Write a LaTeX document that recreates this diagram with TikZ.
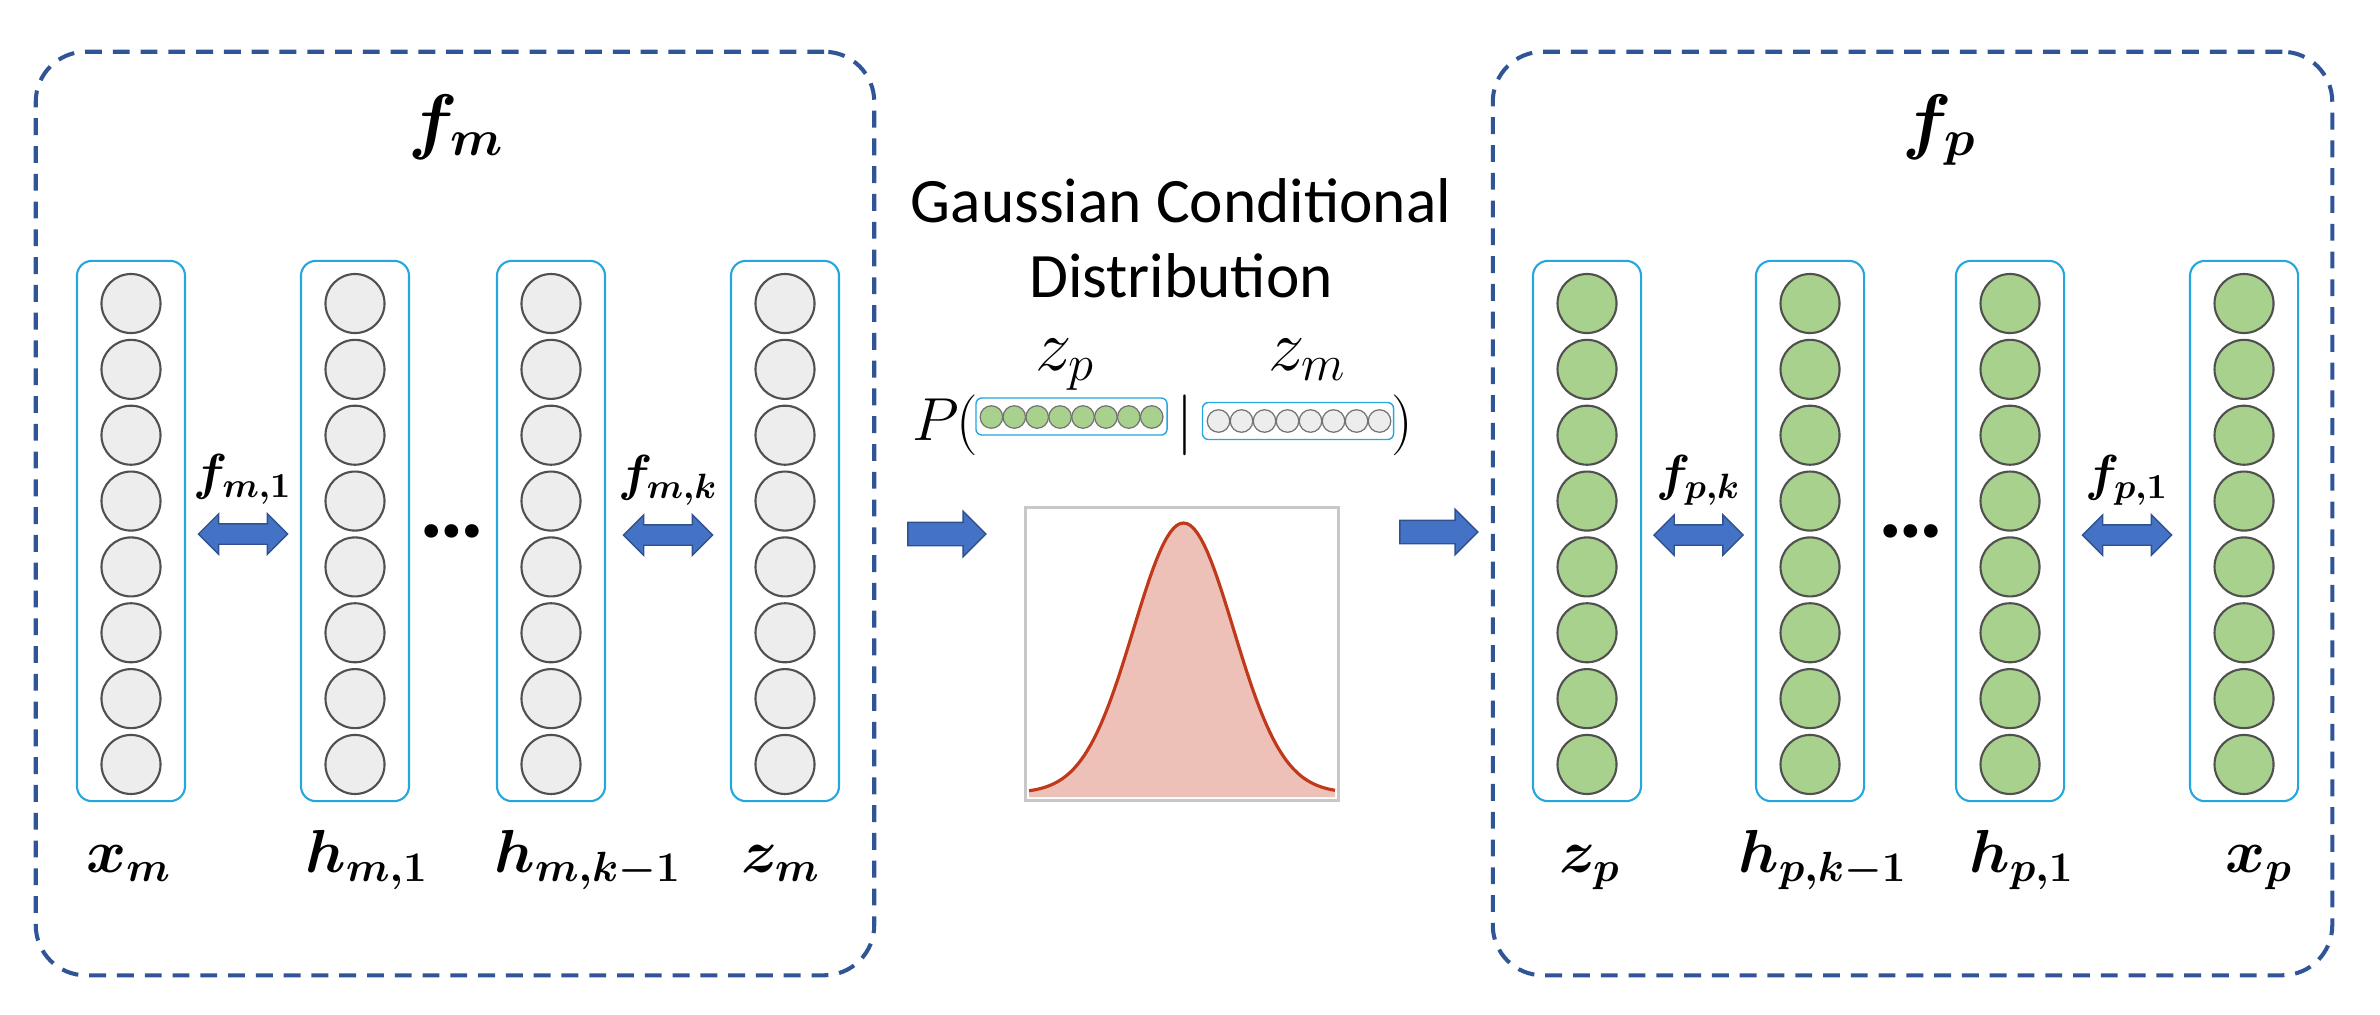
\documentclass[tikz,border=0pt]{standalone}
\usepackage{amsmath,amssymb,bm}
\usepackage{fontspec}
\newfontfamily\calib{Carlito}
\usepackage{tikz}
\usetikzlibrary{shapes.arrows,positioning,calc}

\definecolor{dashblue}{RGB}{47,85,151}
\definecolor{layerblue}{RGB}{38,166,222}
\definecolor{nodegray}{RGB}{237,237,237}
\definecolor{nodegreen}{RGB}{169,209,142}
\definecolor{rimgray}{RGB}{80,80,80}
\definecolor{arrowblue}{RGB}{68,114,196}
\definecolor{arrowrim}{RGB}{47,82,143}
\definecolor{bellfill}{RGB}{238,193,184}
\definecolor{bellline}{RGB}{192,57,27}
\definecolor{framegray}{RGB}{200,200,200}

\tikzset{
  netbox/.style={draw=dashblue,line width=1.15pt,dash pattern=on 4.8pt off 3.1pt,
    rounded corners=0.5cm,inner sep=0pt},
  layer/.style={draw=layerblue,line width=0.6pt,rounded corners=0.15cm,
    minimum width=1.08cm,minimum height=5.4cm,inner sep=0pt},
  neuron/.style={circle,draw=rimgray,line width=0.6pt,minimum size=0.59cm,inner sep=0pt},
  minineuron/.style={circle,draw=rimgray!80,line width=0.35pt,minimum size=0.225cm,inner sep=0pt},
  minibar/.style={draw=layerblue,line width=0.4pt,rounded corners=0.06cm,inner sep=0pt,
    minimum width=1.91cm,minimum height=0.37cm},
  duo/.style={double arrow,fill=arrowblue,draw=arrowrim,line width=0.4pt,inner sep=0pt,
    inner ysep=0.095cm,minimum height=0.89cm,double arrow head extend=0.1cm},
  flow/.style={single arrow,fill=arrowblue,draw=arrowrim,line width=0.4pt,inner sep=0pt,
    inner ysep=0.11cm,minimum height=0.78cm,single arrow head extend=0.11cm},
  ttl/.style={inner sep=0pt,anchor=base west,font=\fontsize{20}{24}\selectfont},
  lbl/.style={inner sep=0pt,anchor=base,font=\fontsize{18.5}{22}\selectfont},
  flbl/.style={inner sep=0pt,font=\fontsize{14.5}{17}\selectfont},
  paren/.style={inner sep=0pt,font=\fontsize{17}{20}\selectfont},
}

\begin{document}
\begin{tikzpicture}[x=0.01cm,y=-0.01cm]
\useasboundingbox (0,0) rectangle (2380,1014);

% the two networks
\node[netbox,minimum width=8.38cm,minimum height=9.23cm] (encm) at (455,513.5) {};
\node[netbox,minimum width=8.39cm,minimum height=9.23cm] (encp) at (1912.5,513.5) {};
\node[ttl] (fmtitle) at (408,145) {$\bm{f}_{\bm{m}}$};
\node[ttl] (fptitle) at (1902,145) {$\bm{f}_{\bm{p}}$};

% layers
\foreach \cx/\nm/\fc in {131/xm/nodegray,355/hma/nodegray,551/hmk/nodegray,785/zm/nodegray,
  1587/zp/nodegreen,1810/hpk/nodegreen,2010/hpa/nodegreen,2244/xp/nodegreen}{
  \node[layer] (\nm) at (\cx,531) {};
  \foreach \i in {0,...,7}
    \node[neuron,fill=\fc] (\nm-\i) at (\cx,{303.5+65.85*\i}) {};
}

% layer names
\node[lbl] (xmlbl) at (129,872) {$\bm{x}_{\bm{m}}$};
\node[lbl] (hmalbl) at (367,872) {$\bm{h}_{\bm{m,1}}$};
\node[lbl] (hmklbl) at (588,872) {$\bm{h}_{\bm{m,k-1}}$};
\node[lbl] (zmlbl) at (781,872) {$\bm{z}_{\bm{m}}$};
\node[lbl] (zplbl) at (1590,872) {$\bm{z}_{\bm{p}}$};
\node[lbl] (hpklbl) at (1823,872) {$\bm{h}_{\bm{p,k-1}}$};
\node[lbl] (hpalbl) at (2022,872) {$\bm{h}_{\bm{p,1}}$};
\node[lbl] (xplbl) at (2259,872) {$\bm{x}_{\bm{p}}$};

% maps between layers
\node[duo,yshift=-0.03cm] (fma) at ($(xm.east)!.5!(hma.west)$) {};
\node[duo,yshift=-0.04cm] (fmk) at ($(hmk.east)!.5!(zm.west)$) {};
\node[duo,yshift=-0.04cm] (fpk) at ($(zp.east)!.5!(hpk.west)$) {};
\node[duo,yshift=-0.04cm] (fpa) at ($(hpa.east)!.5!(xp.west)$) {};
\node[flbl,above=0.18cm of fma] (fmalbl) {$\bm{f}_{\bm{m,1}}$};
\node[flbl,above=0.18cm of fmk] (fmklbl) {$\bm{f}_{\bm{m,k}}$};
\node[flbl,above=0.18cm of fpk] (fpklbl) {$\bm{f}_{\bm{p,k}}$};
\node[flbl,above=0.18cm of fpa] (fpalbl) {$\bm{f}_{\bm{p,1}}$};
\node[inner sep=0pt,anchor=base,font=\calib\bfseries\fontsize{26}{30}\selectfont] (mdots) at (452.5,537) {\char"2026};
\node[inner sep=0pt,anchor=base,font=\calib\bfseries\fontsize{26}{30}\selectfont] (pdots) at (1910.5,537) {\char"2026};

% conditional distribution
\node[inner sep=0pt,anchor=north,align=center,font=\calib\fontsize{18}{21.3}\selectfont] (gtitle) at (1181,178)
  {Gaussian Conditional\\Distribution};
\node[inner sep=0pt,anchor=base west,font=\fontsize{17}{20}\selectfont] (probP) at (912,440) {$P$};
\node[paren] (lpar) at (967.5,425) {$($};
\node[paren] (midbar) at (1185,425) {$|$};
\node[paren] (rpar) at (1402.5,425) {$)$};
\node[minibar] (zpbar) at (1071.5,416.5) {};
\node[minibar] (zmbar) at (1298,421) {};
\foreach \i in {0,...,7}{
  \node[minineuron,fill=nodegreen] (zpbar-\i) at ({991.4+22.9*\i},417) {};
  \node[minineuron,fill=nodegray] (zmbar-\i) at ({1218.5+23*\i},421) {};
}
\node[inner sep=0pt,anchor=base west,font=\fontsize{20}{24}\selectfont] (zptop) at (1035,370) {$z_p$};
\node[inner sep=0pt,anchor=base west,font=\fontsize{20}{24}\selectfont] (zmtop) at (1268,370) {$z_m$};

\node[flow] (flowin) at (941,534) {};
\node[flow] (flowout) at (1433,532) {};

% bell curve
\node[draw=framegray,line width=1pt,minimum width=3.13cm,minimum height=2.93cm,inner sep=0pt] (gbox) at (1182,654) {};
\fill[bellfill] plot[domain=-3.09:3.03,samples=90] ({1183.5+50*\x},{793-270*exp(-0.5*\x*\x)})
  -- (1335,797) -- (1029,797) -- cycle;
\draw[bellline,line width=0.9pt] plot[domain=-3.09:3.03,samples=90] ({1183.5+50*\x},{793-270*exp(-0.5*\x*\x)});
\end{tikzpicture}
\end{document}
